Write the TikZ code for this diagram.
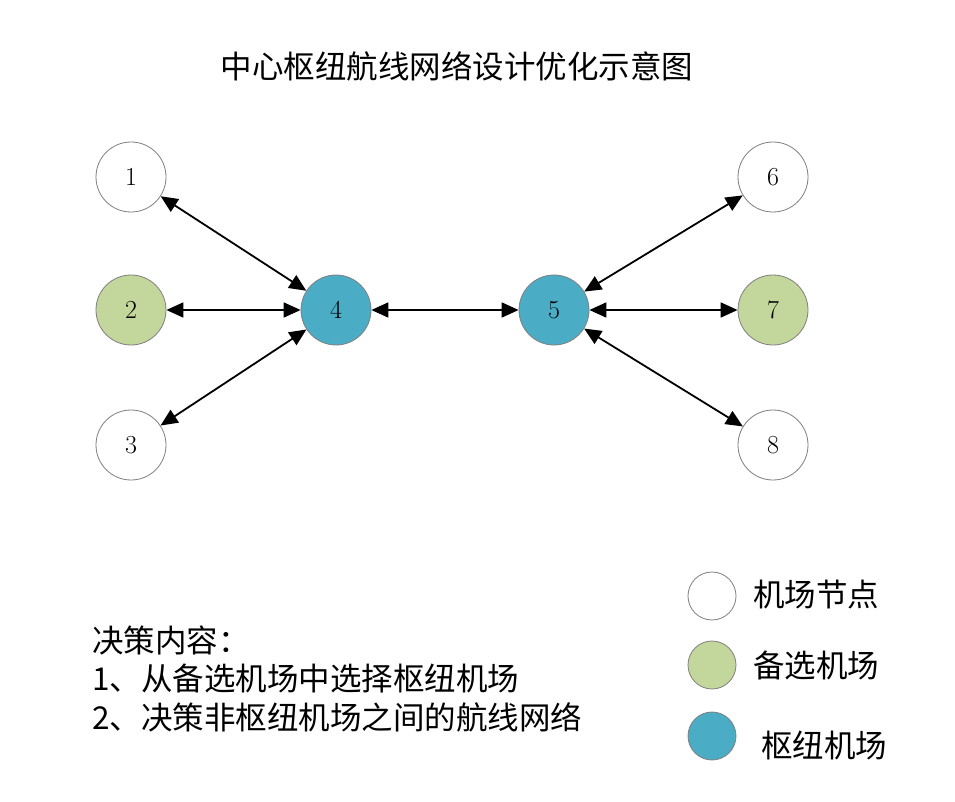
\documentclass[tikz,border=0pt]{standalone}
\usepackage{fontspec}
\newfontfamily\cjk{Noto Sans CJK SC}
\usetikzlibrary{arrows.meta}
\definecolor{nodegreen}{HTML}{C3D69B}
\definecolor{hubblue}{HTML}{4BACC6}
\definecolor{rimgray}{HTML}{7F7F7F}
\begin{document}
\begin{tikzpicture}[x=1pt,y=-1pt,
  airport/.style={circle, draw=rimgray, line width=0.8pt, minimum size=70pt,
    inner sep=0pt, font=\fontsize{26}{26}\selectfont},
  plain/.style={airport, fill=white},
  backup/.style={airport, fill=nodegreen},
  hub/.style={airport, fill=hubblue},
  route/.style={line width=1.8pt,
    {Triangle[length=17pt,width=15pt]}-{Triangle[length=17pt,width=15pt]}},
  swatch/.style={circle, draw=rimgray, line width=0.8pt, minimum size=48pt, inner sep=0pt},
  cjktext/.style={font=\cjk\fontsize{31.5}{38}\selectfont, inner sep=0pt}]

% canvas
\fill[white] (0,0) rectangle (955,802);
\useasboundingbox (0,0) rectangle (955,802);

% title
\node[cjktext] (title) at (457,66) {中心枢纽航线网络设计优化示意图};

% airports
\node[plain]  (n1) at (131,177) {1};
\node[backup] (n2) at (131,310) {2};
\node[plain]  (n3) at (131,445) {3};
\node[hub]    (n4) at (336,310) {4};
\node[hub]    (n5) at (554,310) {5};
\node[plain]  (n6) at (773,177) {6};
\node[backup] (n7) at (773,310) {7};
\node[plain]  (n8) at (773,445) {8};

% routes
\draw[route] (n1) -- (n4);
\draw[route] (n2) -- (n4);
\draw[route] (n3) -- (n4);
\draw[route] (n4) -- (n5);
\draw[route] (n5) -- (n6);
\draw[route] (n5) -- (n7);
\draw[route] (n5) -- (n8);

% decision notes
\node[cjktext, anchor=west] (d0) at (92,640) {决策内容：};
\node[cjktext, anchor=west] (d1) at (92,678) {1、从备选机场中选择枢纽机场};
\node[cjktext, anchor=west] (d2) at (92,717) {2、决策非枢纽机场之间的航线网络};

% legend
\node[swatch, fill=white]     (k1) at (712,596) {};
\node[swatch, fill=nodegreen] (k2) at (712,665) {};
\node[swatch, fill=hubblue]   (k3) at (712,736) {};
\node[cjktext, anchor=west] (t1) at (753,595) {机场节点};
\node[cjktext, anchor=west] (t2) at (753,665) {备选机场};
\node[cjktext, anchor=west] (t3) at (761,745) {枢纽机场};
\end{tikzpicture}
\end{document}
